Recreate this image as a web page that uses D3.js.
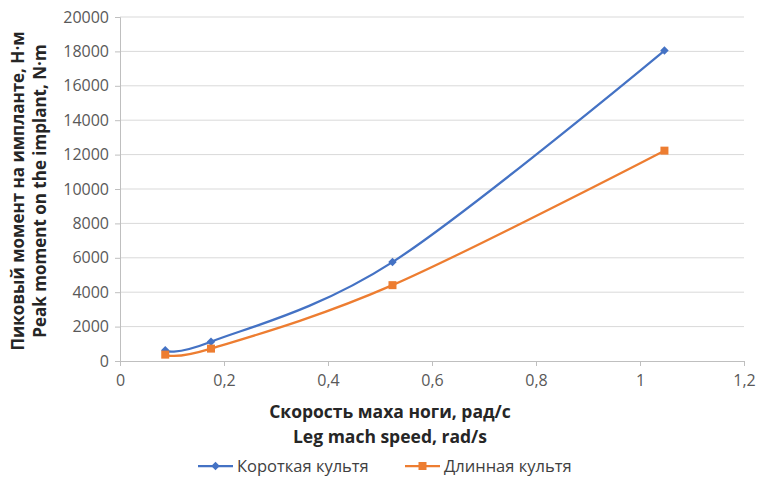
<!DOCTYPE html>
<html>
<head>
<meta charset="utf-8">
<script src="https://cdnjs.cloudflare.com/ajax/libs/d3/7.8.5/d3.min.js"></script>
<style>
  body { margin: 0; background: #fff; }
  text { font-family: "Open Sans", "DejaVu Sans", sans-serif; }
</style>
</head>
<body>
<div id="chart"></div>
<script>
// chart data
var speeds = [0.087, 0.175, 0.524, 1.047];
var shortStump = [620, 1120, 5750, 18050];
var longStump = [370, 720, 4410, 12230];
var seriesNames = ["Короткая культя", "Длинная культя"];
var xTicks = [0, 0.2, 0.4, 0.6, 0.8, 1, 1.2];
var yTicks = [0, 2000, 4000, 6000, 8000, 10000, 12000, 14000, 16000, 18000, 20000];

var W = 758, H = 477;
var margin = {top: 17, right: 13, bottom: 116, left: 120};

var svg = d3.select("#chart").append("svg")
    .attr("width", W)
    .attr("height", H);

var x = d3.scaleLinear().domain([0, 1.2]).range([margin.left, 744]);
var y = d3.scaleLinear().domain([0, 20000]).range([361, margin.top]);

// gridlines
svg.append("g")
    .selectAll("line")
    .data(yTicks.slice(1))
    .enter()
    .append("line")
    .attr("x1", x(0)).attr("x2", x(1.2))
    .attr("y1", function(d) { return y(d); })
    .attr("y2", function(d) { return y(d); })
    .attr("stroke", "#d9d9d9")
    .attr("stroke-width", 1);

// x axis
var xAxis = svg.append("g")
    .attr("transform", "translate(0," + y(0) + ")")
    .call(d3.axisBottom(x).tickValues(xTicks).tickSize(5).tickPadding(9)
        .tickFormat(function(d) { return String(d).replace(".", ","); }));
xAxis.select(".domain").attr("stroke", "#bfbfbf");
xAxis.selectAll(".tick line").attr("stroke", "#bfbfbf");
xAxis.selectAll("text").attr("font-size", 16).attr("fill", "#595959")
    .style("font-family", "'Open Sans', sans-serif");

// y axis
var yAxis = svg.append("g")
    .attr("transform", "translate(" + x(0) + ",0)")
    .call(d3.axisLeft(y).tickValues(yTicks).tickSize(5).tickPadding(6).tickFormat(d3.format("d")));
yAxis.select(".domain").attr("stroke", "#bfbfbf");
yAxis.selectAll(".tick line").attr("stroke", "#bfbfbf");
yAxis.selectAll("text").attr("font-size", 16).attr("fill", "#595959")
    .style("font-family", "'Open Sans', sans-serif");

// axis titles
svg.append("text")
    .attr("x", 390).attr("y", 418)
    .attr("text-anchor", "middle")
    .attr("font-size", 17.5).attr("font-weight", "bold").attr("fill", "#262626")
    .text("Скорость маха ноги, рад/с");
svg.append("text")
    .attr("x", 390).attr("y", 443)
    .attr("text-anchor", "middle")
    .attr("font-size", 17.5).attr("font-weight", "bold").attr("fill", "#262626")
    .text("Leg mach speed, rad/s");

svg.append("text")
    .attr("transform", "translate(24,191) rotate(-90)")
    .attr("text-anchor", "middle")
    .attr("font-size", 17).attr("font-weight", "bold").attr("fill", "#262626")
    .text("Пиковый момент на импланте, Н·м");
svg.append("text")
    .attr("transform", "translate(46,191) rotate(-90)")
    .attr("text-anchor", "middle")
    .attr("font-size", 17).attr("font-weight", "bold").attr("fill", "#262626")
    .text("Peak moment on the implant, N·m");

// lines
var line = d3.line()
    .x(function(d) { return x(d[0]); })
    .y(function(d) { return y(d[1]); })
    .curve(d3.curveCatmullRom.alpha(0));

var series = [
    {name: seriesNames[0], values: shortStump, color: "#4472c4", marker: "diamond"},
    {name: seriesNames[1], values: longStump, color: "#ed7d31", marker: "square"}
];

function markerPath(kind) {
    return kind == "diamond"
        ? d3.symbol().type(d3.symbolSquare).size(36)()
        : d3.symbol().type(d3.symbolSquare).size(64)();
}
function markerRot(kind) {
    return kind == "diamond" ? " rotate(45)" : "";
}

series.forEach(function(s) {
    var pts = speeds.map(function(v, i) { return [v, s.values[i]]; });
    svg.append("path")
        .datum(pts)
        .attr("fill", "none")
        .attr("stroke", s.color)
        .attr("stroke-width", 2.25)
        .attr("d", line);

    svg.append("g")
        .selectAll("path")
        .data(pts)
        .enter()
        .append("path")
        .attr("transform", function(d) { return "translate(" + x(d[0]) + "," + y(d[1]) + ")" + markerRot(s.marker); })
        .attr("d", markerPath(s.marker))
        .attr("fill", s.color);
});

// legend
var legendX = [198, 405];
series.forEach(function(s, i) {
    var g = svg.append("g").attr("transform", "translate(" + legendX[i] + ",466)");
    g.append("line")
        .attr("x1", 0).attr("x2", 35).attr("y1", 0).attr("y2", 0)
        .attr("stroke", s.color).attr("stroke-width", 2.25);
    g.append("path")
        .attr("transform", "translate(17.5,0)" + markerRot(s.marker))
        .attr("d", markerPath(s.marker))
        .attr("fill", s.color);
    g.append("text")
        .attr("x", 39).attr("y", 6)
        .attr("font-size", 16.5).attr("fill", "#404040")
        .text(s.name);
});
</script>
</body>
</html>
